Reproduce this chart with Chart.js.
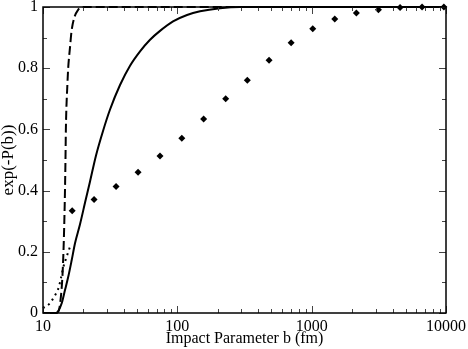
<!DOCTYPE html>
<html>
<head>
<meta charset="utf-8">
<script src="https://cdn.jsdelivr.net/npm/chart.js@4/dist/chart.umd.min.js"></script>
<style>
  html, body { margin: 0; padding: 0; background: #fff; }
  #wrap { width: 468px; height: 349px; }
</style>
</head>
<body>
<div id="wrap"><canvas id="chart"></canvas></div>
<script>
// impact parameter b (fm) and exp(-P(b))
const solidB = [10, 12.5, 12.93, 13.78, 14.58, 15.43, 16.36, 17.31, 18.86, 20.54, 22.39, 24.81, 27.98, 31.55, 37.44, 44.45, 52.77, 62.63, 74.33, 92.9, 118.1, 147.6, 208, 293, 10000];
const solidP = [0, 0, 0.005, 0.032, 0.075, 0.119, 0.173, 0.228, 0.29, 0.36, 0.43, 0.515, 0.595, 0.665, 0.745, 0.808, 0.855, 0.893, 0.922, 0.953, 0.974, 0.986, 0.996, 1.0, 1.0];

const dashB = [10, 12.5, 13.0, 13.4, 13.9, 14.2, 14.5, 14.7, 14.8, 15.2, 15.4, 15.9, 16.3, 17.1, 18.2, 19.8, 10000];
const dashP = [0, 0, 0.004, 0.03, 0.108, 0.2, 0.35, 0.5, 0.6, 0.75, 0.8, 0.87, 0.92, 0.965, 0.99, 1.0, 1.0];

const dotB = [10, 11.1, 12.1, 13.1, 13.6, 14.2, 15.0, 15.9];
const dotP = [0.016, 0.029, 0.053, 0.084, 0.114, 0.151, 0.184, 0.217];

const diamondB = [16.5, 24.0, 35.0, 51, 74.3, 108, 157, 229, 332, 482, 703, 1019, 1485, 2152, 3140, 4550, 6637, 9640];
const diamondP = [0.334, 0.371, 0.413, 0.460, 0.513, 0.571, 0.634, 0.700, 0.761, 0.826, 0.883, 0.929, 0.961, 0.980, 0.991, 0.998, 1.0, 1.0];

const xLabels = [10, 100, 1000, 10000];
const yLabels = [0, 0.2, 0.4, 0.6, 0.8, 1];

const pairs = (xs, ys) => xs.map((x, i) => ({ x: x, y: ys[i] }));

const serif = '"Liberation Serif", "DejaVu Serif", serif';

// frame box and inward ticks on all four sides, like the original plot
const frameTicks = {
    id: 'frameTicks',
    afterDatasetsDraw(chart) {
        const ctx = chart.ctx;
        const a = chart.chartArea;
        const xs = chart.scales.x;
        const ys = chart.scales.y;
        ctx.save();
        ctx.strokeStyle = '#444';
        ctx.lineWidth = 1;
        ctx.beginPath();
        for (let d = 10; d <= 10000; d *= 10) {
            for (let m = 1; m <= 9; m++) {
                const v = d * m;
                if (v > 10000) break;
                const px = Math.round(xs.getPixelForValue(v)) + 0.5;
                const len = m === 1 ? 7 : 4;
                ctx.moveTo(px, a.bottom); ctx.lineTo(px, a.bottom - len);
                ctx.moveTo(px, a.top); ctx.lineTo(px, a.top + len);
            }
        }
        for (let i = 0; i <= 10; i++) {
            const py = Math.round(ys.getPixelForValue(i / 10)) + 0.5;
            const len = i % 2 === 0 ? 7 : 4;
            ctx.moveTo(a.left, py); ctx.lineTo(a.left + len, py);
            ctx.moveTo(a.right, py); ctx.lineTo(a.right - len, py);
        }
        ctx.stroke();
        ctx.strokeStyle = '#000';
        ctx.lineWidth = 1.5;
        ctx.strokeRect(a.left, a.top, a.right - a.left, a.bottom - a.top);
        ctx.restore();
    }
};

new Chart(document.getElementById('chart'), {
    type: 'scatter',
    data: {
        datasets: [
            {
                data: pairs(solidB, solidP),
                showLine: true,
                borderColor: '#000',
                borderWidth: 2,
                pointRadius: 0,
                cubicInterpolationMode: 'monotone',
                clip: 4
            },
            {
                data: pairs(dashB, dashP),
                showLine: true,
                borderColor: '#000',
                borderWidth: 2,
                borderDash: [9, 4],
                pointRadius: 0,
                cubicInterpolationMode: 'monotone',
                clip: 4
            },
            {
                data: pairs(dotB, dotP),
                showLine: true,
                borderColor: '#000',
                borderWidth: 2,
                borderDash: [2, 4],
                pointRadius: 0,
                cubicInterpolationMode: 'monotone',
                clip: 4
            },
            {
                data: pairs(diamondB, diamondP),
                showLine: false,
                pointStyle: 'rectRot',
                pointRadius: 3.5,
                backgroundColor: '#000',
                borderColor: '#000',
                borderWidth: 0,
                clip: 6
            }
        ]
    },
    options: {
        responsive: true,
        maintainAspectRatio: false,
        animation: false,
        events: [],
        layout: { padding: { left: 0, right: 22, top: 7, bottom: 0 } },
        plugins: {
            legend: { display: false },
            tooltip: { enabled: false }
        },
        scales: {
            x: {
                type: 'logarithmic',
                min: 10,
                max: 10000,
                grid: { display: false, drawTicks: false },
                border: { display: false },
                afterBuildTicks: (s) => { s.ticks = xLabels.map(v => ({ value: v, major: true })); },
                afterFit: (s) => {
                    s.height = 36;
                    s.paddingLeft = 0; s.paddingRight = 0;
                },
                ticks: {
                    autoSkip: false,
                    maxRotation: 0,
                    padding: 4,
                    color: '#000',
                    font: { family: serif, size: 16 },
                    callback: (v) => String(v)
                },
                title: {
                    display: true,
                    text: 'Impact Parameter b (fm)',
                    color: '#000',
                    padding: { top: 0, bottom: 0 },
                    font: { family: serif, size: 16, lineHeight: 1.25 }
                }
            },
            y: {
                min: 0,
                max: 1,
                grid: { display: false, drawTicks: false },
                border: { display: false },
                afterBuildTicks: (s) => { s.ticks = yLabels.map(v => ({ value: v })); },
                afterFit: (s) => {
                    s.width = 43;
                    s.paddingTop = 0; s.paddingBottom = 0;
                },
                ticks: {
                    padding: 5,
                    color: '#000',
                    font: { family: serif, size: 16 },
                    callback: (v) => (v === 0 || v === 1) ? String(v) : v.toFixed(1)
                },
                title: {
                    display: true,
                    text: 'exp(-P(b))',
                    color: '#000',
                    padding: { top: 0, bottom: 0 },
                    font: { family: serif, size: 17, lineHeight: 1.05 }
                }
            }
        }
    },
    plugins: [frameTicks]
});
</script>
</body>
</html>
